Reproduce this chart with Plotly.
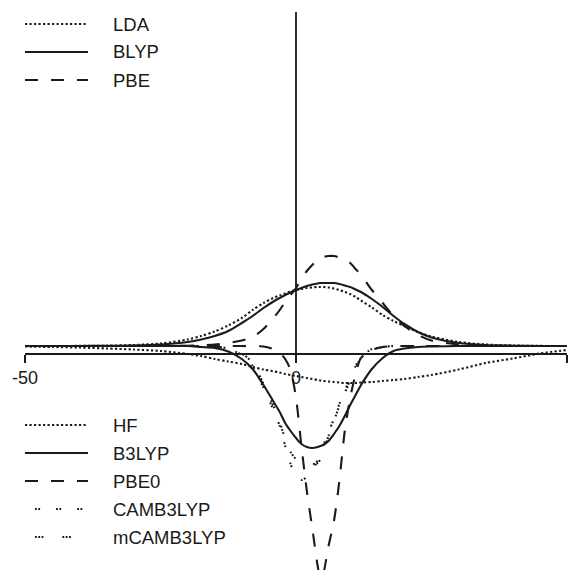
import plotly.graph_objects as go

# Sample positions (shared by every curve)
x = [-50, -45, -40, -35, -30, -25, -20, -17.5, -15, -12.5, -10, -8, -6, -4, -3, -2, -1,
     0, 1, 2, 3, 4, 4.5, 5, 6, 7, 8, 9, 10, 11, 12, 14, 16, 18, 20, 22.5, 25, 30, 35, 40, 45, 50]

# Pure functionals (positive lobes)
lda = [0, 0, 0.1, 0.3, 1, 2.5, 6.5, 10, 14.5, 20.5, 28, 36, 43, 48.5, 50.5, 52.5, 54.5,
       56, 57, 58, 58.5, 59, 59, 59, 58.5, 57.5, 56, 54, 52, 49, 45.5, 38.5, 31, 25, 20, 14, 9.5, 4, 1.5, 0.5, 0.1, 0]
blyp = [0, 0, 0, 0.2, 0.5, 1.5, 4, 6.5, 10, 15, 23, 30, 38, 45, 48, 51, 53.5,
        56, 58, 60, 61.5, 62.5, 63, 63, 63, 63, 62, 60.5, 59, 56.5, 54, 47, 39, 30, 22, 14, 8.5, 3, 1, 0.3, 0, 0]
pbe = [0, 0, 0, 0, 0, 0, 0.3, 0.7, 1.5, 3, 5.5, 9, 17, 29, 36, 44, 51,
       58, 67, 75, 81, 86, 88, 89, 90, 90, 88.5, 86, 83, 77, 71, 56, 43, 30, 20, 11, 5.5, 1.5, 0.3, 0, 0, 0]

# Hartree-Fock and hybrid functionals (negative lobes)
hf = [-0.5, -1, -1.5, -2.5, -3.5, -5, -8, -10, -13, -15.5, -18, -21, -23.5, -25.5, -26.5, -28, -29,
      -30, -31, -32, -33, -34, -34.5, -35, -35.5, -36, -36.5, -37, -37, -37, -36.5, -36, -35, -34, -33, -31, -29,
      -23.5, -17, -12.5, -7.5, -4]
b3lyp = [0, 0, 0, 0, 0, 0, 0, -1, -2, -5.5, -13, -23, -39, -57, -66, -77, -85,
         -92, -98, -101, -102, -101, -100, -99, -95, -88, -80, -70, -59, -49, -39, -23, -12, -5, -2.5, -1, -0.5,
         0, 0, 0, 0, 0]
pbe0 = [0, 0, 0, 0, 0, 0, 0, 0, 0, 0, 0, -0.3, -0.5, -3.5, -7, -13, -24,
        -52, -100, -145, -182, -220, -232, -228, -200, -175, -135, -85, -52, -28, -12, -4, -1, 0, 0, 0, 0,
        0, 0, 0, 0, 0]
camb3lyp = [0, 0, 0, 0, 0, 0, 0, 0, -0.5, -3, -9, -20, -42, -66, -80, -100, -118,
            -130, -134, -131, -125, -114, -108, -100, -86, -73, -58, -45, -32, -20, -11, -3, -1, 0, 0, 0, 0,
            0, 0, 0, 0, 0]
mcamb3lyp = [0, 0, 0, 0, 0, 0, 0, 0, -0.5, -2.5, -7.5, -17, -38, -62, -76, -93, -106,
             -113, -116, -117, -118, -117, -113, -106, -90, -75, -60, -47, -34, -22, -12, -3.5, -1, 0, 0, 0, 0,
             0, 0, 0, 0, 0]

tick_vals = [-50, 0, 50]
tick_text = ["-50", "0", "50"]

upper_names = ["LDA", "BLYP", "PBE"]
lower_names = ["HF", "B3LYP", "PBE0", "CAMB3LYP", "mCAMB3LYP"]

INK = "#1a1a1a"
FONT = "Liberation Sans, Arial, Helvetica, sans-serif"
DOT = "2.2px,2.3px"
DASH = "13px,13px"
styles = {
    "LDA": DOT,
    "BLYP": "solid",
    "PBE": DASH,
    "HF": DOT,
    "B3LYP": "solid",
    "PBE0": DASH,
    "CAMB3LYP": "1.8px,1.5px,1.8px,16px",
    "mCAMB3LYP": "1.8px,1.5px,1.8px,1.5px,1.8px,19px",
}
series = {
    "LDA": lda, "BLYP": blyp, "PBE": pbe,
    "HF": hf, "B3LYP": b3lyp, "PBE0": pbe0,
    "CAMB3LYP": camb3lyp, "mCAMB3LYP": mcamb3lyp,
}

W, H = 577, 570
ML, MR = 25, 10
PLOT_W = W - ML - MR


def px_x(p):
    return (p - ML) / PLOT_W


def px_y(p):
    return (H - p) / H


fig = go.Figure()
for name in upper_names + lower_names:
    fig.add_trace(go.Scatter(
        x=x, y=series[name], mode="lines", name=name, showlegend=False,
        line=dict(color=INK, width=2.1, dash=styles[name], shape="spline", smoothing=0.8),
        hoverinfo="skip",
    ))

shapes = []
annotations = []

# Vertical axis line through x = 0
shapes.append(dict(type="line", xref="x", yref="paper", x0=0, x1=0,
                   y0=px_y(362), y1=px_y(12), line=dict(color=INK, width=1.8)))

# Hand-placed legend blocks
legend_rows = [(n, 24 + 28 * i) for i, n in enumerate(upper_names)] + \
              [(n, 425 + 28 * i) for i, n in enumerate(lower_names)]
for name, yp in legend_rows:
    start = 35 if name in ("CAMB3LYP", "mCAMB3LYP") else 25
    shapes.append(dict(type="line", xref="paper", yref="paper",
                       x0=px_x(start), x1=px_x(88), y0=px_y(yp), y1=px_y(yp),
                       line=dict(color=INK, width=2.1, dash=styles[name])))
    annotations.append(dict(text=name, xref="paper", yref="paper", x=px_x(111), y=px_y(yp),
                            xanchor="left", yanchor="middle", showarrow=False,
                            font=dict(family=FONT, size=18.5, color=INK)))

fig.update_layout(
    width=W, height=H,
    margin=dict(l=ML, r=MR, t=0, b=0),
    paper_bgcolor="white", plot_bgcolor="white",
    showlegend=False,
    shapes=shapes, annotations=annotations,
    xaxis=dict(range=[-50, 50], anchor="free", position=px_y(354),
               showline=True, linecolor=INK, linewidth=1.5,
               ticks="outside", ticklen=8, tickwidth=1.5, tickcolor=INK,
               tickvals=tick_vals, ticktext=tick_text,
               tickfont=dict(family=FONT, size=18, color=INK),
               showgrid=False, zeroline=False, fixedrange=True),
    yaxis=dict(range=[-224, 346], visible=False, showgrid=False, zeroline=False, fixedrange=True),
)

fig.write_html("out.html")
